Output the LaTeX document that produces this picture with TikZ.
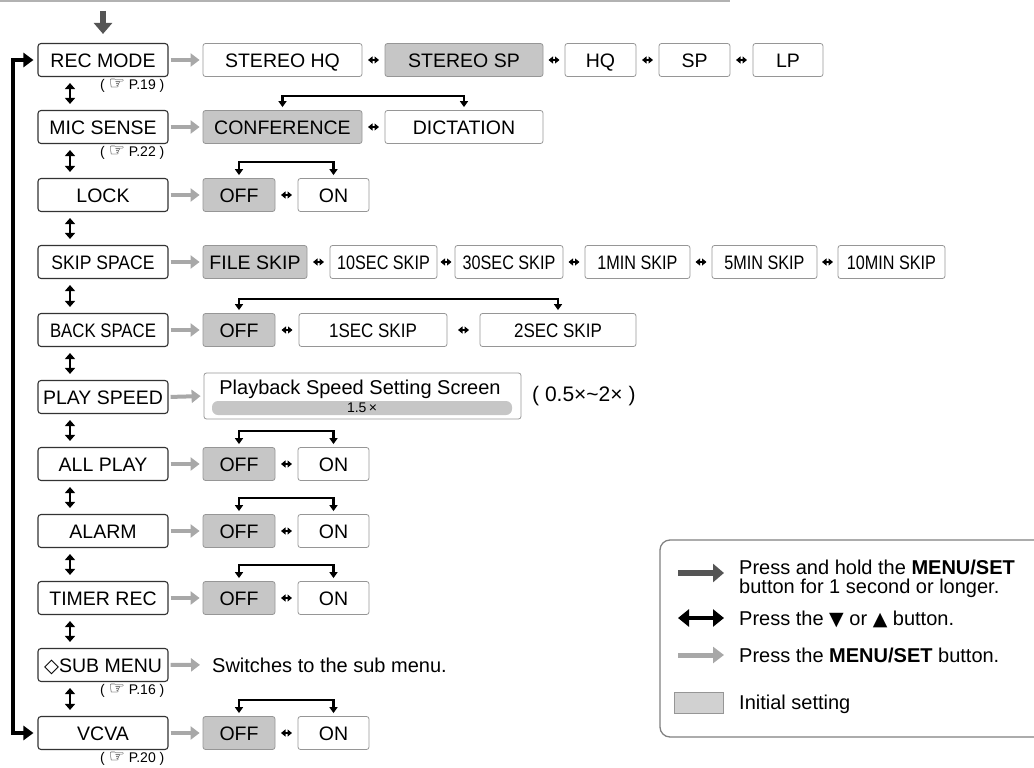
\documentclass[tikz,border=0pt]{standalone}
\usepackage{fontspec}
\usepackage{graphicx}
\setmainfont{Liberation Sans}
\newfontfamily\symfont{DejaVu Sans}
\usetikzlibrary{arrows.meta,calc}
\definecolor{initgray}{RGB}{198,198,198}
\definecolor{optline}{RGB}{150,150,150}
\definecolor{menugray}{RGB}{168,168,168}
\definecolor{holdgray}{RGB}{85,85,85}
\newcommand\cond[2]{\scalebox{#1}[1]{#2}}
\newcommand\sdbl[2]{\draw[smalldbl] ($(#1.east)!.5!(#2.west)+(-5.5,0)$) -- ($(#1.east)!.5!(#2.west)+(5.5,0)$);}
\newcommand\prefhand{{\symfont\fontsize{18}{18}\selectfont ☞}}
\begin{document}
\begin{tikzpicture}[x=1pt,y=-1pt,
  lbl/.style={font=\fontsize{19.5}{22}\selectfont, text height=14pt, text depth=0pt},
  menubox/.style={lbl, draw=black!80, line width=1.1pt, rounded corners=3pt, minimum width=130pt, minimum height=33pt, inner sep=0pt},
  optbox/.style={lbl, draw=optline, line width=0.8pt, rounded corners=2.5pt, minimum height=33pt, inner sep=0pt, minimum width=#1},
  initbox/.style={optbox=#1, fill=initgray},
  pref/.style={font=\fontsize{14}{15}\selectfont, inner sep=0pt},
  txt/.style={font=\fontsize{20}{22}\selectfont, inner sep=0pt},
  smalldbl/.style={draw=black, line width=1.5pt, {Triangle[length=4.5pt,width=7pt]}-{Triangle[length=4.5pt,width=7pt]}},
  updown/.style={draw=black, line width=2.8pt, {Triangle[length=6pt,width=10pt]}-{Triangle[length=6pt,width=10pt]}},
  menuarr/.style={draw=menugray, line width=4pt, -{Triangle[length=9pt,width=13pt]}, shorten <=2pt, shorten >=3pt},
  brk/.style={draw=black, line width=2.2pt, line join=miter, {Triangle[length=6pt,width=8pt]}-{Triangle[length=6pt,width=8pt]}},
  bigloop/.style={draw=black, line width=4.5pt, line join=miter, {Triangle[length=10pt,width=14pt]}-{Triangle[length=10pt,width=14pt]}},
  holdarr/.style={draw=holdgray, line width=6pt, -{Triangle[length=11pt,width=18pt]}},
  dblarr/.style={draw=black, line width=4.5pt, {Triangle[length=11pt,width=17pt]}-{Triangle[length=11pt,width=17pt]}},
]
\useasboundingbox (0,0) rectangle (1034,768);
\clip (0,0) rectangle (1034,768);

% top rule
\draw[black!30, line width=1.2pt] (0,1) -- (730,1);

% left column
\node[menubox] (rec)   at (103,60)  {REC MODE};
\node[menubox] (mic)   at (103,127) {MIC SENSE};
\node[menubox] (lock)  at (103,195) {LOCK};
\node[menubox] (skip)  at (103,262) {\cond{0.9}{SKIP SPACE}};
\node[menubox] (back)  at (103,330) {\cond{0.86}{BACK SPACE}};
\node[menubox] (play)  at (103,397) {PLAY SPEED};
\node[menubox] (all)   at (103,464) {ALL PLAY};
\node[menubox] (alarm) at (103,531) {ALARM};
\node[menubox] (timer) at (103,598) {TIMER REC};
\node[menubox] (sub)   at (103,665) {{\symfont ◇}SUB MENU};
\node[menubox] (vcva)  at (103,733) {VCVA};

% page references
\node[pref, anchor=north east] (p19) at ([xshift=-4pt,yshift=-2pt]rec.south east) {(\;\prefhand\;P.19\;)};
\node[pref, anchor=north east] (p22) at ([xshift=-4pt,yshift=-2pt]mic.south east) {(\;\prefhand\;P.22\;)};
\node[pref, anchor=north east] (p16) at ([xshift=-4pt,yshift=-2pt]sub.south east) {(\;\prefhand\;P.16\;)};
\node[pref, anchor=north east] (p20) at ([xshift=-4pt,yshift=-2pt]vcva.south east) {(\;\prefhand\;P.20\;)};

% vertical up/down arrows
\foreach \a/\b in {rec/mic,mic/lock,lock/skip,skip/back,back/play,play/all,all/alarm,alarm/timer,timer/sub,sub/vcva}{
  \draw[updown] ([xshift=-33pt,yshift=-6pt]\a.south) -- ([xshift=-33pt,yshift=6pt]\b.north);
}

% big loop
\coordinate (lx) at (13,0);
\draw[bigloop] ([xshift=-4pt]rec.west) -- (rec.west -| lx) -- (vcva.west -| lx) -- ([xshift=-4pt]vcva.west);

% top entry arrow
\coordinate (topstart) at (103,11);
\draw[holdarr] (topstart) -- ([yshift=9pt]rec.north);

% row 1
\node[optbox=159pt] (r1a) at (282.5,60) {STEREO HQ};
\node[initbox=158pt] (r1b) at (464,60) {STEREO SP};
\node[optbox=71pt] (r1c) at (600.5,60) {HQ};
\node[optbox=71pt] (r1d) at (694.5,60) {SP};
\node[optbox=70pt] (r1e) at (788,60) {LP};
\draw[menuarr] (rec.east) -- (r1a.west);
\sdbl{r1a}{r1b}\sdbl{r1b}{r1c}\sdbl{r1c}{r1d}\sdbl{r1d}{r1e}

% row 2
\node[initbox=159pt] (r2a) at (282.5,127) {CONFERENCE};
\node[optbox=158pt] (r2b) at (464,127) {DICTATION};
\draw[menuarr] (mic.east) -- (r2a.west);
\sdbl{r2a}{r2b}
\draw[brk] ([yshift=3pt]r2a.north) -- ++(0,-11) -| ([yshift=3pt]r2b.north);

% row 3
\node[initbox=72pt] (r3a) at (239,195) {OFF};
\node[optbox=71pt] (r3b) at (333.5,195) {ON};
\draw[menuarr] (lock.east) -- (r3a.west);
\sdbl{r3a}{r3b}
\draw[brk] ([yshift=3pt]r3a.north) -- ++(0,-13) -| ([yshift=3pt]r3b.north);

% row 4
\node[initbox=104pt] (r4a) at (255,262) {FILE SKIP};
\node[optbox=107pt] (r4b) at (383.5,262) {\cond{0.83}{10SEC SKIP}};
\node[optbox=108pt] (r4c) at (509,262) {\cond{0.83}{30SEC SKIP}};
\node[optbox=105pt] (r4d) at (637.5,262) {\cond{0.83}{1MIN SKIP}};
\node[optbox=105pt] (r4e) at (764.5,262) {\cond{0.83}{5MIN SKIP}};
\node[optbox=107pt] (r4f) at (891.5,262) {\cond{0.83}{10MIN SKIP}};
\draw[menuarr] (skip.east) -- (r4a.west);
\sdbl{r4a}{r4b}\sdbl{r4b}{r4c}\sdbl{r4c}{r4d}\sdbl{r4d}{r4e}\sdbl{r4e}{r4f}

% row 5
\node[initbox=72pt] (r5a) at (239,330) {OFF};
\node[optbox=148pt] (r5b) at (373,330) {\cond{0.87}{1SEC SKIP}};
\node[optbox=156pt] (r5c) at (558,330) {\cond{0.87}{2SEC SKIP}};
\draw[menuarr] (back.east) -- (r5a.west);
\sdbl{r5a}{r5b}\sdbl{r5b}{r5c}
\draw[brk] ([yshift=3pt]r5a.north) -- ++(0,-11) -| ([yshift=3pt]r5c.north);

% row 6
\node[draw=optline, line width=0.8pt, rounded corners=2.5pt, minimum width=317pt, minimum height=46pt, inner sep=0pt] (r6) at (362.5,396) {};
\node[fill=initgray, rounded corners=6pt, minimum width=300pt, minimum height=14pt, inner sep=0pt] (r6bar) at (362,408) {};
\node[txt, anchor=base] (r6t) at (360,394) {Playback Speed Setting Screen};
\node[font=\fontsize{14}{15}\selectfont, inner sep=0pt] (r6v) at (362,408) {1.5\,×};
\node[font=\fontsize{21}{23}\selectfont, inner sep=0pt, anchor=base west] (r6r) at (532,401) {(\;0.5×\textasciitilde 2×\;)};
\draw[menuarr] (play.east) -- (r6.west);

% rows with OFF/ON
\foreach \m/\n/\y in {all/r7/464, alarm/r8/531, timer/r9/598, vcva/r11/733}{
  \node[initbox=72pt] (\n a) at (239,\y) {OFF};
  \node[optbox=71pt] (\n b) at (333.5,\y) {ON};
  \draw[menuarr] (\m.east) -- (\n a.west);
  \draw[smalldbl] ($(\n a.east)!.5!(\n b.west)+(-5.5,0)$) -- ($(\n a.east)!.5!(\n b.west)+(5.5,0)$);
  \draw[brk] ([yshift=3pt]\n a.north) -- ++(0,-13) -| ([yshift=3pt]\n b.north);
}

% row 10
\node[txt, anchor=base west] (r10t) at (212,672) {Switches to the sub menu.};
\draw[menuarr] (sub.east) -- ([xshift=-9pt]r10t.west);

% legend
\draw[black!50, line width=1.3pt, rounded corners=10pt] (660,540) rectangle (1060,737);
\coordinate (l1a) at (678,573); \coordinate (l1b) at (724,573);
\draw[holdarr] (l1a) -- (l1b);
\node[txt, anchor=base west] (lt1) at (739,574) {Press and hold the \textbf{MENU/SET}};
\node[txt, anchor=base west] (lt2) at (739,593) {button for 1 second or longer.};
\coordinate (l2a) at (678,618); \coordinate (l2b) at (724,618);
\draw[dblarr] (l2a) -- (l2b);
\node[txt, anchor=base west] (lt3) at (739,625) {Press the {\symfont\fontsize{19}{20}\selectfont ▼} or {\symfont\fontsize{19}{20}\selectfont ▲} button.};
\coordinate (l3a) at (678,655); \coordinate (l3b) at (724,655);
\draw[draw=menugray, line width=5pt, -{Triangle[length=11pt,width=16pt]}] (l3a) -- (l3b);
\node[txt, anchor=base west] (lt4) at (739,662) {Press the \textbf{MENU/SET} button.};
\node[draw=optline, fill=initgray!80, line width=0.8pt, minimum width=49pt, minimum height=21pt, inner sep=0pt] (lsw) at (698.5,702.5) {};
\node[txt, anchor=base west] (lt5) at (739,709) {Initial setting};
\end{tikzpicture}
\end{document}
